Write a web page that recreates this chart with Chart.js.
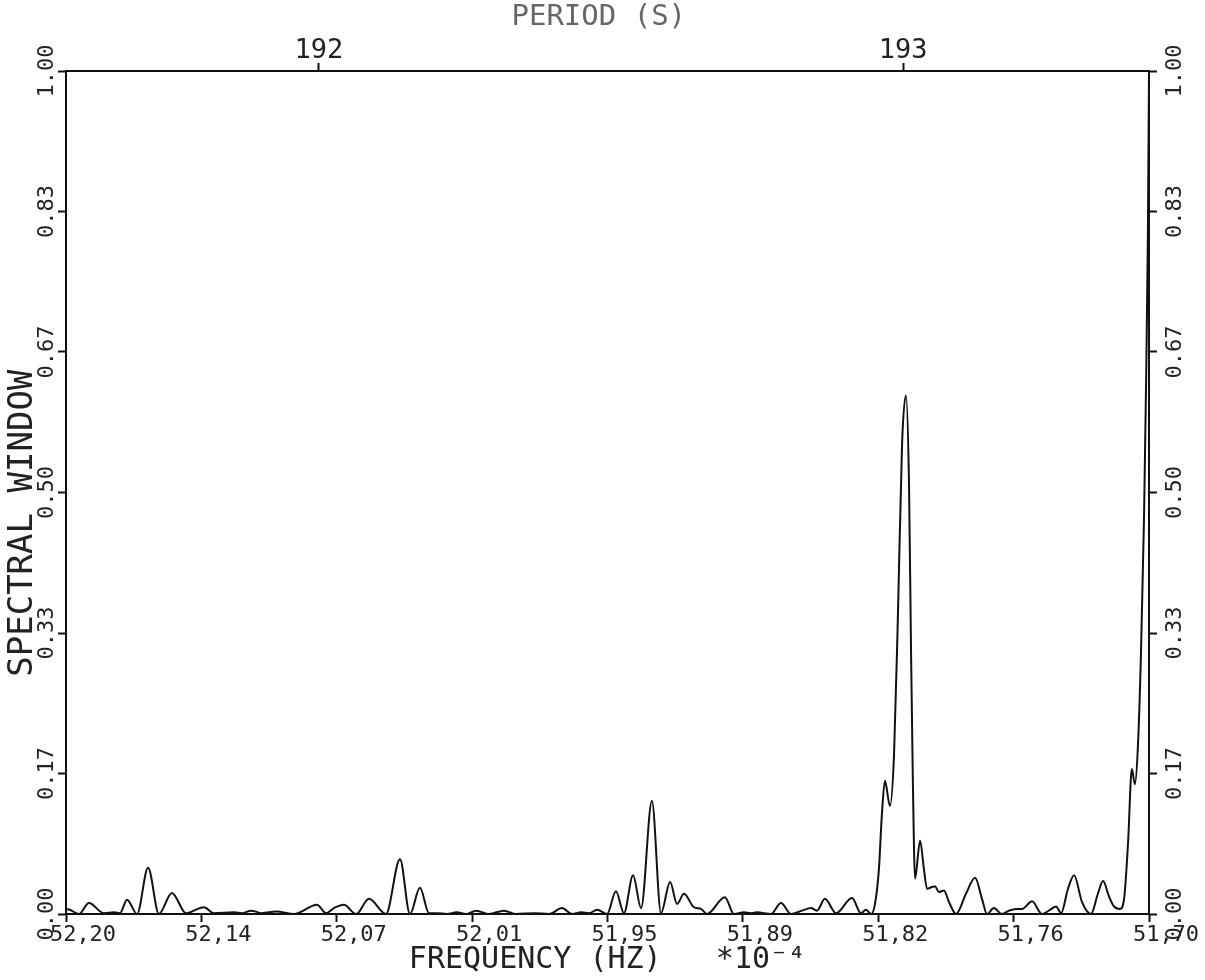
<!DOCTYPE html>
<html>
<head>
<meta charset="utf-8">
<script src="https://cdn.jsdelivr.net/npm/chart.js@4.4.1/dist/chart.umd.min.js"></script>
<style>
  html, body { margin: 0; padding: 0; background: #fff; }
  #wrap { width: 1205px; height: 980px; }
</style>
</head>
<body>
<div id="wrap"><canvas id="myChart" width="1205" height="980"></canvas></div>
<script>
// frequency (Hz * 10^-4)
var freqs = [
    52.2000, 52.1982, 52.1940, 52.1894, 52.1825, 52.1778, 52.1751, 52.1718, 52.1672, 52.1621,
    52.1571, 52.1511, 52.1446, 52.1363, 52.1317, 52.1224, 52.1187, 52.1146, 52.1095, 52.1030,
    52.0947, 52.0841, 52.0800, 52.0763, 52.0717, 52.0661, 52.0601, 52.0523, 52.0458, 52.0412,
    52.0366, 52.0324, 52.0287, 52.0241, 52.0195, 52.0153, 52.0107, 52.0047, 51.9978, 51.9922,
    51.9839, 51.9770, 51.9710, 51.9664, 51.9622, 51.9585, 51.9548, 51.9502, 51.9461, 51.9424,
    51.9382, 51.9345, 51.9295, 51.9253, 51.9211, 51.9179, 51.9147, 51.9101, 51.9068, 51.9041,
    51.8958, 51.8916, 51.8870, 51.8837, 51.8810, 51.8745, 51.8699, 51.8653, 51.8602, 51.8560,
    51.8533, 51.8496, 51.8445, 51.8371, 51.8330, 51.8307, 51.8283, 51.8265, 51.8247, 51.8233,
    51.8219, 51.8196, 51.8177, 51.8159, 51.8140, 51.8122, 51.8108, 51.8099, 51.8090, 51.8080,
    51.8057, 51.8039, 51.8025, 51.8002, 51.7988, 51.7970, 51.7947, 51.7923, 51.7891, 51.7845,
    51.7803, 51.7771, 51.7748, 51.7716, 51.7679, 51.7646, 51.7614, 51.7586, 51.7540, 51.7494,
    51.7457, 51.7429, 51.7406, 51.7374, 51.7346, 51.7309, 51.7268, 51.7236, 51.7212, 51.7185,
    51.7162, 51.7134, 51.7115, 51.7097, 51.7079, 51.7065, 51.7051, 51.7037, 51.7023, 51.7014,
    51.7005, 51.7000
];
// spectral window values
var windowVals = [
    0.006, 0.005, 0.000, 0.013, 0.001, 0.002, 0.001, 0.017, 0.000, 0.055,
    0.000, 0.025, 0.001, 0.008, 0.001, 0.002, 0.001, 0.004, 0.001, 0.003,
    0.000, 0.011, 0.001, 0.007, 0.011, 0.000, 0.018, 0.000, 0.065, 0.000,
    0.031, 0.001, 0.001, 0.000, 0.002, 0.000, 0.004, 0.000, 0.004, 0.000,
    0.001, 0.000, 0.007, 0.000, 0.002, 0.001, 0.005, 0.000, 0.027, 0.001,
    0.046, 0.007, 0.134, 0.001, 0.038, 0.012, 0.024, 0.008, 0.006, 0.000,
    0.020, 0.000, 0.002, 0.001, 0.002, 0.000, 0.013, 0.000, 0.004, 0.007,
    0.004, 0.018, 0.001, 0.019, 0.001, 0.005, 0.000, 0.012, 0.053, 0.119,
    0.158, 0.128, 0.190, 0.356, 0.558, 0.615, 0.510, 0.320, 0.154, 0.042,
    0.087, 0.053, 0.030, 0.032, 0.033, 0.026, 0.028, 0.014, 0.000, 0.024,
    0.043, 0.018, 0.000, 0.007, 0.000, 0.004, 0.006, 0.006, 0.015, 0.000,
    0.005, 0.009, 0.001, 0.030, 0.046, 0.014, 0.000, 0.024, 0.039, 0.021,
    0.009, 0.006, 0.018, 0.083, 0.172, 0.154, 0.200, 0.310, 0.470, 0.620,
    0.810, 1.000
];

var xTickValues = [52.20, 52.1375, 52.075, 52.0125, 51.95, 51.8875, 51.825, 51.7625, 51.70];
var xTickLabels = ['52,20', '52,14', '52,07', '52,01', '51,95', '51,89', '51,82', '51,76', '51,70'];
var yTickValues = [0, 0.1667, 0.3333, 0.5, 0.6667, 0.8333, 1];
var yTickLabels = ['0.00', '0.17', '0.33', '0.50', '0.67', '0.83', '1.00'];
// period (s) on top: frequency = 10^4 / period
var periodTickValues = [52.0833, 51.8135];
var periodTickLabels = ['192', '193'];

var fontFam = "'DejaVu Sans Mono', 'Liberation Mono', monospace";
var ink = '#222';

var points = [];
for (var i = 0; i < freqs.length; i++) {
    points.push({x: freqs[i], y: windowVals[i]});
}

function setTicks(vals) {
    return function (s) {
        s.ticks = vals.map(function (v) { return {value: v}; });
    };
}

var gridOpts = {
    drawOnChartArea: false,
    drawTicks: true,
    tickLength: 8,
    tickWidth: 2,
    color: '#111'
};
var borderOpts = {display: true, color: '#111', width: 2};

var ctx = document.getElementById("myChart");
var myChart = new Chart(ctx, {
    type: 'line',
    data: {
        datasets: [{
                label: 'Spectral window',
                data: points,
                borderColor: '#111',
                borderWidth: 2,
                pointRadius: 0,
                cubicInterpolationMode: 'monotone',
                fill: false
            }]
    },
    options: {
        responsive: false,
        animation: false,
        layout: {padding: 0},
        plugins: {
            legend: {display: false},
            tooltip: {enabled: false}
        },
        scales: {
            x: {
                type: 'linear',
                position: 'bottom',
                reverse: true,
                min: 51.70,
                max: 52.20,
                afterBuildTicks: setTicks(xTickValues),
                afterFit: function (s) { s.height = 66; },
                grid: gridOpts,
                border: borderOpts,
                ticks: {
                    color: ink,
                    font: {family: fontFam, size: 22},
                    padding: 0,
                    labelOffset: 17,
                    maxRotation: 0,
                    callback: function (v, idx) { return xTickLabels[idx]; }
                },
                title: {
                    display: true,
                    text: 'FREQUENCY (HZ)   *10\u207B\u2074',
                    color: ink,
                    font: {family: fontFam, size: 30},
                    padding: {top: 0, bottom: 2}
                }
            },
            x2: {
                type: 'linear',
                position: 'top',
                reverse: true,
                min: 51.70,
                max: 52.20,
                afterBuildTicks: setTicks(periodTickValues),
                afterFit: function (s) { s.height = 71; },
                grid: gridOpts,
                border: borderOpts,
                ticks: {
                    color: ink,
                    font: {family: fontFam, size: 27},
                    padding: -4,
                    maxRotation: 0,
                    callback: function (v, idx) { return periodTickLabels[idx]; }
                },
                title: {
                    display: true,
                    text: 'PERIOD (S) ',
                    color: '#666',
                    font: {family: fontFam, size: 29},
                    padding: {top: 0, bottom: 0}
                }
            },
            y: {
                type: 'linear',
                position: 'left',
                min: 0,
                max: 1,
                afterBuildTicks: setTicks(yTickValues),
                afterFit: function (s) { s.width = 66; },
                grid: gridOpts,
                border: borderOpts,
                ticks: {
                    color: ink,
                    font: {family: fontFam, size: 22},
                    minRotation: 90,
                    maxRotation: 90,
                    crossAlign: 'center',
                    padding: -16,
                    callback: function (v, idx) { return yTickLabels[idx]; }
                },
                title: {
                    display: true,
                    text: 'SPECTRAL WINDOW   ',
                    color: ink,
                    font: {family: fontFam, size: 34},
                    padding: {top: 3, bottom: 0}
                }
            },
            y2: {
                type: 'linear',
                position: 'right',
                min: 0,
                max: 1,
                afterBuildTicks: setTicks(yTickValues),
                afterFit: function (s) { s.width = 56; },
                grid: gridOpts,
                border: borderOpts,
                ticks: {
                    color: ink,
                    font: {family: fontFam, size: 22},
                    minRotation: 90,
                    maxRotation: 90,
                    crossAlign: 'center',
                    padding: -8,
                    callback: function (v, idx) { return yTickLabels[idx]; }
                }
            }
        }
    }
});
</script>
</body>
</html>
